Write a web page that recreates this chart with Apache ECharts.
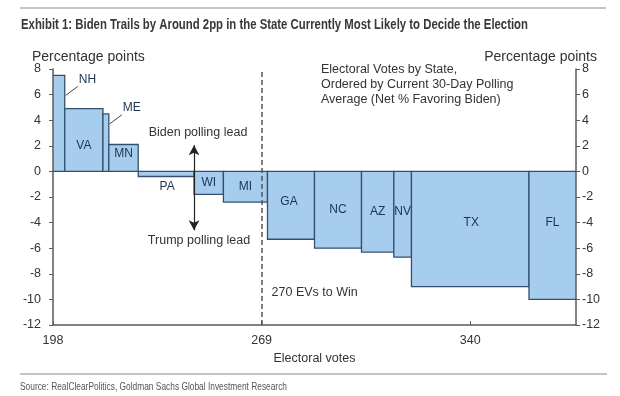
<!DOCTYPE html>
<html>
<head>
<meta charset="utf-8">
<script src="https://cdn.jsdelivr.net/npm/echarts@6/dist/echarts.min.js"></script>
<style>
  html, body { margin: 0; padding: 0; background: #fff; }
  #chart { width: 620px; height: 396px; }
</style>
</head>
<body>
<div id="chart"></div>
<script>
// states in polling order, width of each bar = electoral votes
const states = ['NH', 'VA', 'ME', 'MN', 'PA', 'WI', 'MI', 'GA', 'NC', 'AZ', 'NV', 'TX', 'FL'];
const electoralVotes = [4, 13, 2, 10, 19, 10, 15, 16, 16, 11, 6, 40, 16];
const pollMargin = [7.5, 4.9, 4.5, 2.1, -0.4, -1.8, -2.4, -5.3, -6.0, -6.3, -6.7, -9.0, -10.0];
const startEV = 198;
const winEV = 269;
const xTicks = [198, 269, 340];
const yTicks = [-12, -10, -8, -6, -4, -2, 0, 2, 4, 6, 8];

const FONT = '"Liberation Sans", Arial, sans-serif';
const TXT = '#333';
const AXIS = '#5a5a5a';

// label tweaks (pixels) and callouts
const labelNudge = { VA: [0, 6], MN: [0, -4], GA: [-2, -4], NV: [0, -3], TX: [1, -6], FL: [0, -13] };
const callouts = { NH: 20, ME: 10 };

// build bar spans from cumulative electoral votes
let cum = startEV;
const bars = states.map(function (s, i) {
  const x0 = cum;
  cum += electoralVotes[i];
  return { name: s, value: [x0, cum, pollMargin[i]] };
});
const paEnd = bars[states.indexOf('PA')].value[1];

// squeeze a text to a given width (no narrow font installed)
const measureCtx = document.createElement('canvas').getContext('2d');
function squeeze(text, font, width) {
  measureCtx.font = font;
  return width / measureCtx.measureText(text).width;
}

function renderItem(params, api) {
  const i = params.dataIndex;
  const s = states[i];
  const p0 = api.coord([api.value(0), 0]);
  const p1 = api.coord([api.value(1), api.value(2)]);
  const top = Math.min(p0[1], p1[1]);
  const h = Math.abs(p1[1] - p0[1]);
  const w = p1[0] - p0[0];
  const children = [{
    type: 'rect',
    shape: { x: p0[0], y: top, width: w, height: h },
    style: { fill: '#a7cdee', stroke: '#34506c', lineWidth: 1.3 }
  }];
  const lblStyle = { fill: '#1c3350', font: '12px ' + FONT, align: 'center', verticalAlign: 'middle' };
  if (callouts[s] != null) {
    const sx = p1[0] + 1, sy = top + callouts[s];
    const ex = sx + 12, ey = sy - 9;
    children.push({ type: 'line', shape: { x1: sx, y1: sy, x2: ex, y2: ey }, style: { stroke: '#444', lineWidth: 1 } });
    children.push({ type: 'text', style: Object.assign({}, lblStyle, { text: s, x: ex + 1, y: ey - 7, align: 'left' }) });
  } else if (s === 'PA') {
    children.push({ type: 'text', style: Object.assign({}, lblStyle, { text: s, x: p0[0] + w / 2 + 1, y: top + h + 10 }) });
  } else {
    const n = labelNudge[s] || [0, 0];
    children.push({ type: 'text', style: Object.assign({}, lblStyle, { text: s, x: p0[0] + w / 2 + n[0], y: top + h / 2 + n[1] }) });
  }
  return { type: 'group', children: children };
}

const chart = echarts.init(document.getElementById('chart'), null, { renderer: 'canvas' });

const yAxisBase = {
  type: 'value',
  min: yTicks[0],
  max: yTicks[yTicks.length - 1],
  interval: 2,
  splitLine: { show: false },
  axisLine: { show: true, lineStyle: { color: AXIS, width: 1.5 } },
  axisTick: { show: true, length: 4, lineStyle: { color: AXIS } },
  axisLabel: { color: TXT, fontSize: 12.5, fontFamily: FONT }
};

chart.setOption({
  animation: false,
  backgroundColor: '#fff',
  grid: { left: 53, right: 44, top: 69, bottom: 71 },
  xAxis: {
    type: 'value',
    min: xTicks[0],
    max: cum,
    interval: xTicks[1] - xTicks[0],
    name: 'Electoral votes',
    nameLocation: 'middle',
    nameGap: 20,
    nameTextStyle: { color: TXT, fontSize: 12.5, fontFamily: FONT },
    splitLine: { show: false },
    axisLine: { onZero: false, lineStyle: { color: AXIS, width: 1.5 } },
    axisTick: { inside: true, length: 4, lineStyle: { color: AXIS } },
    axisLabel: { color: TXT, fontSize: 12.5, fontFamily: FONT, margin: 9, showMaxLabel: false }
  },
  yAxis: [
    Object.assign({}, yAxisBase, { position: 'left', axisLabel: Object.assign({}, yAxisBase.axisLabel, { margin: 12 }) }),
    Object.assign({}, yAxisBase, { position: 'right', axisLabel: Object.assign({}, yAxisBase.axisLabel, { margin: 6 }) })
  ],
  series: [{
    type: 'custom',
    renderItem: renderItem,
    encode: { x: [0, 1], y: 2 },
    data: bars,
    clip: true,
    markLine: {
      silent: true,
      symbol: 'none',
      label: { show: false },
      lineStyle: { color: '#555', type: [5, 3], width: 1.5 },
      data: [{ xAxis: winEV }]
    },
    z: 2
  }, {
    type: 'line',
    data: [],
    markLine: {
      silent: true,
      symbol: ['arrow', 'arrow'],
      symbolSize: [8, 10],
      label: { show: false },
      lineStyle: { color: '#222', type: 'solid', width: 1.2 },
      data: [[{ coord: [paEnd, 2.05] }, { coord: [paEnd, -4.6] }]]
    },
    z: 5
  }]
});

// titles, notes and annotations anchored to data positions
const titleText = 'Exhibit 1: Biden Trails by Around 2pp in the State Currently Most Likely to Decide the Election';
const titleFont = 'bold 14.5px ' + FONT;
const sourceText = 'Source: RealClearPolitics, Goldman Sachs Global Investment Research';
const sourceFont = '11px ' + FONT;
const biden = chart.convertToPixel({ gridIndex: 0 }, [paEnd, 2.05]);
const trump = chart.convertToPixel({ gridIndex: 0 }, [paEnd, -4.6]);
const win = chart.convertToPixel({ gridIndex: 0 }, [winEV, -9.5]);
chart.setOption({
  graphic: [
    { type: 'rect', shape: { x: 20, y: 7, width: 586, height: 2 }, style: { fill: '#c4c4c4' } },
    { type: 'rect', shape: { x: 20, y: 373, width: 587, height: 2 }, style: { fill: '#c4c4c4' } },
    { type: 'text', x: 21, y: 25, scaleX: squeeze(titleText, titleFont, 507), style: { text: titleText, fill: '#383838', font: titleFont, verticalAlign: 'middle' } },
    { type: 'text', x: 20, y: 387, scaleX: squeeze(sourceText, sourceFont, 267), style: { text: sourceText, fill: '#555', font: sourceFont, verticalAlign: 'middle' } },
    { type: 'text', x: 32, y: 57, style: { text: 'Percentage points', fill: TXT, font: '14px ' + FONT, verticalAlign: 'middle' } },
    { type: 'text', x: 597, y: 57, style: { text: 'Percentage points', fill: TXT, font: '14px ' + FONT, align: 'right', verticalAlign: 'middle' } },
    { type: 'text', x: 321, y: 85, style: { text: 'Electoral Votes by State,\nOrdered by Current 30-Day Polling\nAverage (Net % Favoring Biden)', fill: TXT, font: '12.5px ' + FONT, lineHeight: 15, verticalAlign: 'middle' } },
    { type: 'text', x: biden[0] + 4, y: biden[1] - 13, style: { text: 'Biden polling lead', fill: TXT, font: '12.5px ' + FONT, align: 'center', verticalAlign: 'middle' } },
    { type: 'text', x: trump[0] + 5, y: trump[1] + 10, style: { text: 'Trump polling lead', fill: TXT, font: '12.5px ' + FONT, align: 'center', verticalAlign: 'middle' } },
    { type: 'text', x: win[0] + 10, y: win[1], style: { text: '270 EVs to Win', fill: TXT, font: '12.5px ' + FONT, verticalAlign: 'middle' } }
  ]
});
</script>
</body>
</html>
